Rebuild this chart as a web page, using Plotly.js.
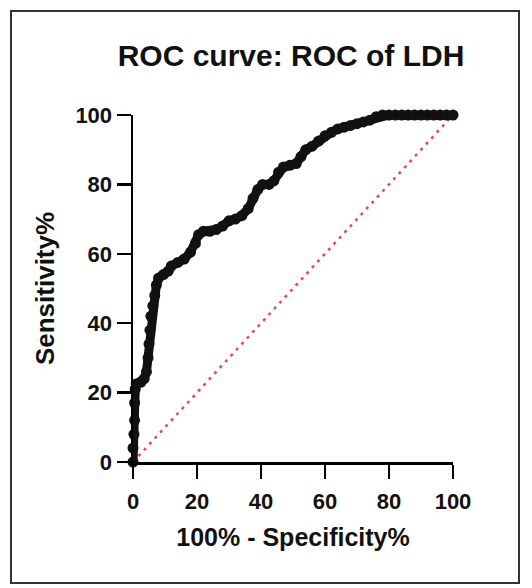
<!DOCTYPE html>
<html>
<head>
<meta charset="utf-8">
<script src="https://cdn.plot.ly/plotly-3.0.1.min.js"></script>
<style>
html,body{margin:0;padding:0;background:#fff;}
#wrap{position:relative;width:532px;height:588px;overflow:hidden;}
#frame{position:absolute;left:10px;top:10px;width:506px;height:570px;border:2px solid #333;box-sizing:content-box;pointer-events:none;}
#chart{position:absolute;left:0;top:0;width:532px;height:588px;}
</style>
</head>
<body>
<div id="wrap"><div id="chart"></div><div id="frame"></div></div>
<script>
// 100% - Specificity% (x) and Sensitivity% (y)
const fpr  = [0, 0, 0.3, 0.5, 0.5, 0.7, 1, 2.5, 3.5, 4.2, 4.7, 5, 5.3, 5.6, 6.2, 6.8, 7.3, 8, 9.5, 11, 12, 14, 16, 18, 19.5, 20.5, 22, 24, 26, 28, 30, 32, 34, 36, 37.5, 39, 40.5, 42.5, 44, 45.5, 47, 49, 51, 52.5, 54, 56, 58, 60, 62, 64, 66, 68, 70, 72, 74, 76, 78, 80, 82, 84, 86, 88, 90, 92, 94, 96, 98, 100];
const sens = [0, 4, 8, 12, 17, 21, 22.5, 23, 24, 26, 30, 34, 38, 42, 45, 48, 51, 53, 54, 55, 56.5, 57.5, 58.5, 60.5, 63, 65.5, 66.5, 66.5, 67, 68, 69.5, 70, 71, 73, 76, 78.5, 80, 80, 81, 83.5, 85, 85.5, 86, 88, 90, 91, 92.5, 94, 95, 96, 96.5, 97, 97.5, 98, 98.5, 99.5, 100, 100, 100, 100, 100, 100, 100, 100, 100, 100, 100, 100];
const refX = [0, 100];
const refY = [0, 100];
const xTicks = [0, 20, 40, 60, 80, 100];
const yTicks = [0, 20, 40, 60, 80, 100];

const sans = 'Liberation Sans, Arial, sans-serif';

const traces = [
  {x: refX, y: refY, mode: 'lines', line: {color: '#ec4a4c', width: 2.5, dash: '3px,5px'}, hoverinfo: 'skip', cliponaxis: false},
  {x: fpr, y: sens, mode: 'lines+markers', line: {color: '#111', width: 9}, marker: {color: '#111', size: 11}, cliponaxis: false}
];

const axisCommon = {
  range: [0, 100], showgrid: false, zeroline: false, showline: true,
  linecolor: '#000', linewidth: 2.5, ticks: 'outside', ticklen: 14, tickwidth: 2.5, tickcolor: '#000',
  tickfont: {family: sans, size: 22, color: '#111', weight: 'bold'},
  tickmode: 'array', fixedrange: true
};

const layout = {
  width: 532, height: 588,
  margin: {l: 133, r: 79, t: 115, b: 126},
  paper_bgcolor: '#fff', plot_bgcolor: '#fff',
  showlegend: false,
  title: {text: 'ROC curve: ROC of LDH', x: 0.547, xanchor: 'center', y: 0.906, yanchor: 'middle',
          font: {family: sans, size: 30, color: '#111', weight: 'bold'}},
  xaxis: Object.assign({}, axisCommon, {tickvals: xTicks, ticktext: xTicks.map(String), ticklabelstandoff: 4,
          title: {text: '100% - Specificity%', standoff: 16, font: {family: sans, size: 25, color: '#111', weight: 'bold'}}}),
  yaxis: Object.assign({}, axisCommon, {tickvals: yTicks, ticktext: yTicks.map(String),
          title: {text: 'Sensitivity%', standoff: 14, font: {family: sans, size: 26, color: '#111', weight: 'bold'}}})
};

Plotly.newPlot('chart', traces, layout, {displayModeBar: false, staticPlot: true});
</script>
</body>
</html>
